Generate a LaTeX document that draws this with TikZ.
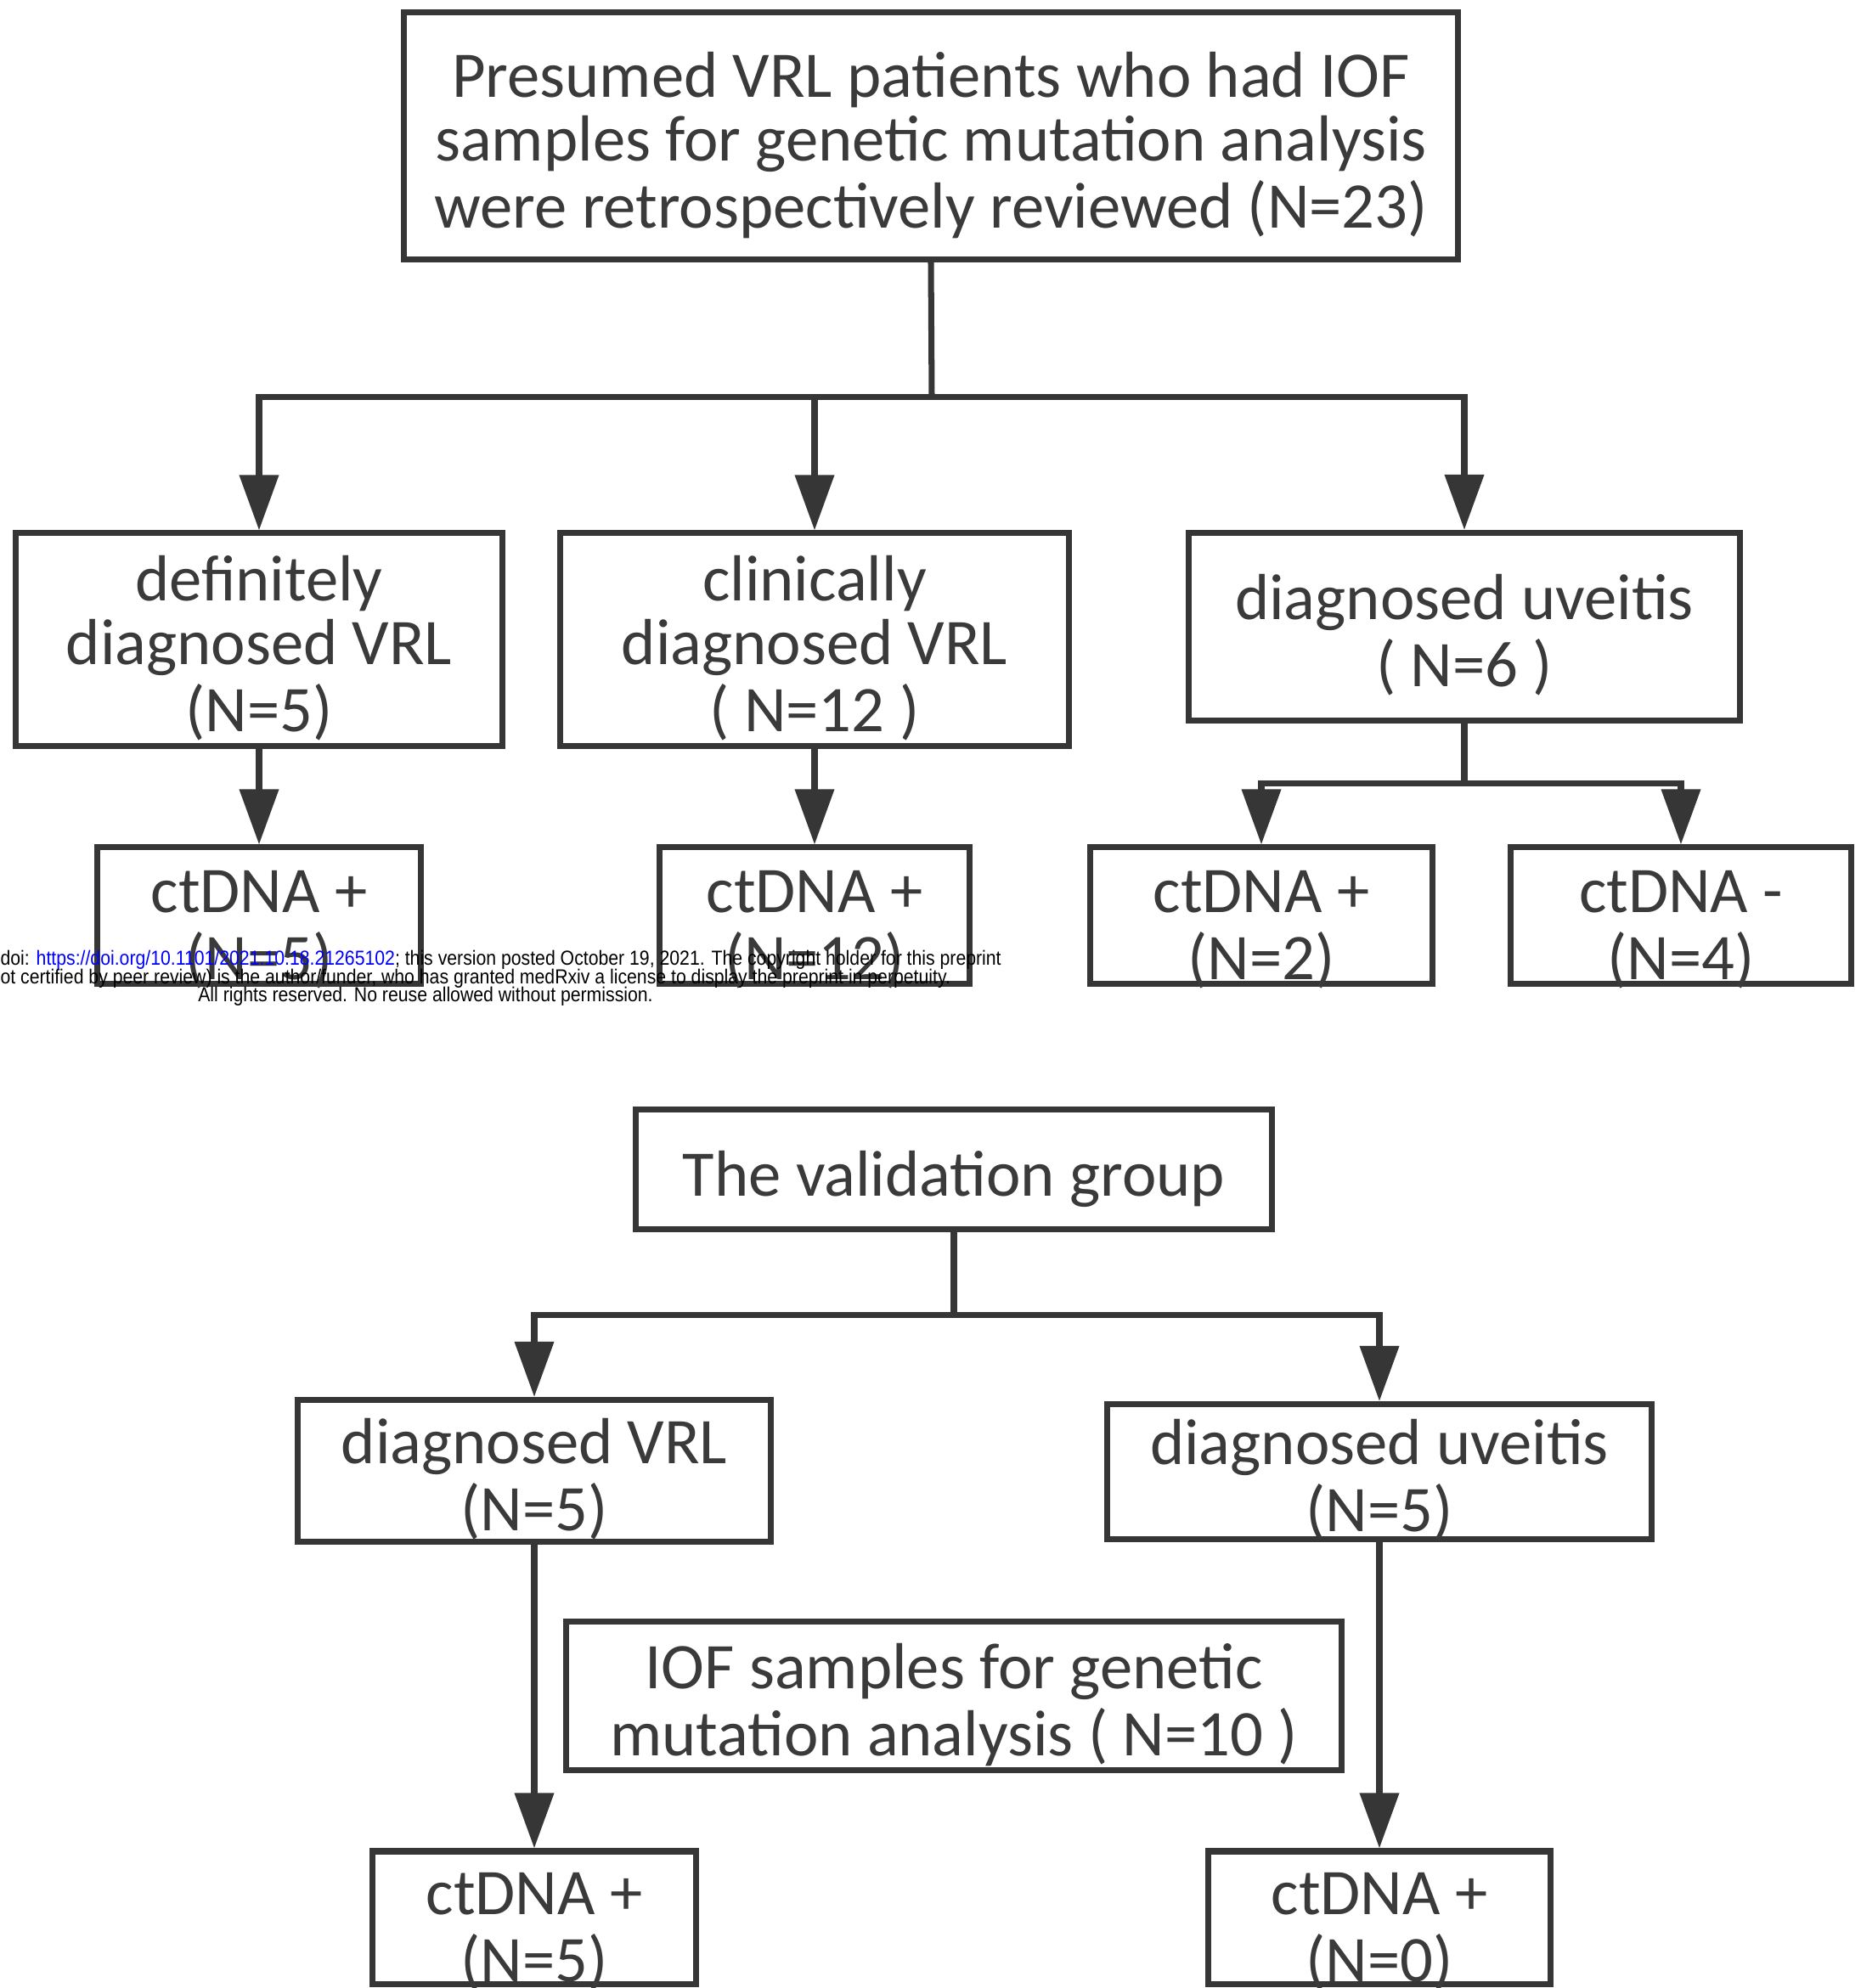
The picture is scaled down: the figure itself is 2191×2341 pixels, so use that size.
\documentclass[tikz,border=0pt]{standalone}
\usepackage{fontspec}
\setmainfont{Carlito}
\newfontfamily\stampfont{Liberation Sans}
\usepackage{xcolor}
\usetikzlibrary{arrows.meta, positioning}
\definecolor{linegray}{HTML}{363636}
\definecolor{textgray}{HTML}{3A3A3A}
\definecolor{doiblue}{HTML}{0000FF}
% box text, set a little low as in the scan
\newcommand{\lowtext}[2][4.5pt]{\raisebox{-#1}[\height][\depth]{\begin{tabular}{@{}c@{}}#2\end{tabular}}}

\begin{document}
\begin{tikzpicture}[x=0.01cm, y=-0.01cm,
    flowbox/.style={rectangle, draw=linegray, line width=2pt, fill=white, text=textgray, inner sep=0pt,
        font=\fontsize{21.8}{21.3}\selectfont},
    flowarrow/.style={draw=linegray, line width=2pt, -{Triangle[length=0.65cm, width=0.45cm]}},
    flowline/.style={draw=linegray, line width=2pt},
    stamp/.style={inner sep=0pt, xscale=0.888, font=\stampfont\fontsize{6.8}{6.8}\selectfont, text=black}
]
\useasboundingbox (0,0) rectangle (2191,2341);

% Retrospective cohort
\node[flowbox, minimum width=12.41cm, minimum height=2.91cm] at (1096,160) (top)
    {\lowtext{Presumed VRL patients who had IOF\\samples for genetic mutation analysis\\were retrospectively reviewed (N=23)}};

\node[flowbox, minimum width=5.72cm, minimum height=2.5cm] at (305,753) (defvrl) {\lowtext{definitely\\diagnosed VRL\\(N=5)}};
\node[flowbox, minimum width=5.98cm, minimum height=2.5cm] at (959,753) (clinvrl) {\lowtext{clinically\\diagnosed VRL\\( N=12 )}};
\node[flowbox, minimum width=6.48cm, minimum height=2.21cm] at (1724,738) (uveit) {\lowtext{diagnosed uveitis\\( N=6 )}};

\coordinate (split1) at (1097,467);
\draw[flowline] (top.south) -- (split1);
\draw[flowarrow] (split1) -| (defvrl.north);
\draw[flowarrow] (split1) -| (clinvrl.north);
\draw[flowarrow] (split1) -| (uveit.north);

% ctDNA results
\node[flowbox, minimum width=3.81cm, minimum height=1.6cm] at (305,1078) (ctdef) {\lowtext[6pt]{ctDNA +\\(N=5)}};
\node[flowbox, minimum width=3.64cm, minimum height=1.6cm] at (959,1078) (ctclin) {\lowtext[6pt]{ctDNA +\\(N=12)}};
\node[flowbox, minimum width=4.02cm, minimum height=1.6cm] at (1485,1078) (ctuvpos) {\lowtext[6pt]{ctDNA +\\(N=2)}};
\node[flowbox, minimum width=4.0cm, minimum height=1.6cm] at (1979,1078) (ctuvneg) {\lowtext[6pt]{ctDNA -\\(N=4)}};

\draw[flowarrow] (defvrl.south) -- (ctdef.north);
\draw[flowarrow] (clinvrl.south) -- (ctclin.north);
\coordinate (split2) at (1724,922);
\draw[flowline] (uveit.south) -- (split2);
\draw[flowarrow] (split2) -| (ctuvpos.north);
\draw[flowarrow] (split2) -| (ctuvneg.north);

% preprint stamp
\node[stamp, anchor=west] at (0,1130) (stamp1)
    {doi: \textcolor{doiblue}{https://doi.org/10.1101/2021.10.18.21265102}; this version posted October 19, 2021. The copyright holder for this preprint};
\node[stamp, anchor=west] at (0,1152) (stamp2)
    {ot certified by peer review) is the author/funder, who has granted medRxiv a license to display the preprint in perpetuity.};
\node[stamp] at (501,1173) (stamp3) {All rights reserved. No reuse allowed without permission.};

% Validation group
\node[flowbox, minimum width=7.49cm, minimum height=1.41cm] at (1123,1377) (valid) {\lowtext{The validation group}};

\node[flowbox, minimum width=5.56cm, minimum height=1.67cm] at (629,1732) (valvrl) {\lowtext{diagnosed VRL\\(N=5)}};
\node[flowbox, minimum width=6.41cm, minimum height=1.59cm] at (1624,1733) (valuveit) {\lowtext{diagnosed uveitis\\(N=5)}};

\coordinate (split3) at (1123,1548);
\draw[flowline] (valid.south) -- (split3);
\draw[flowarrow] (split3) -| (valvrl.north);
\draw[flowarrow] (split3) -| (valuveit.north);

\node[flowbox, minimum width=9.13cm, minimum height=1.75cm] at (1123,1997) (iof)
    {\lowtext{IOF samples for genetic\\mutation analysis ( N=10 )}};

\node[flowbox, minimum width=3.8cm, minimum height=1.56cm] at (629,2258) (ctval1) {\lowtext[6pt]{ctDNA +\\(N=5)}};
\node[flowbox, minimum width=4.02cm, minimum height=1.56cm] at (1624,2258) (ctval2) {\lowtext[6pt]{ctDNA +\\(N=0)}};

\draw[flowarrow] (valvrl.south) -- (ctval1.north);
\draw[flowarrow] (valuveit.south) -- (ctval2.north);

\end{tikzpicture}
\end{document}
